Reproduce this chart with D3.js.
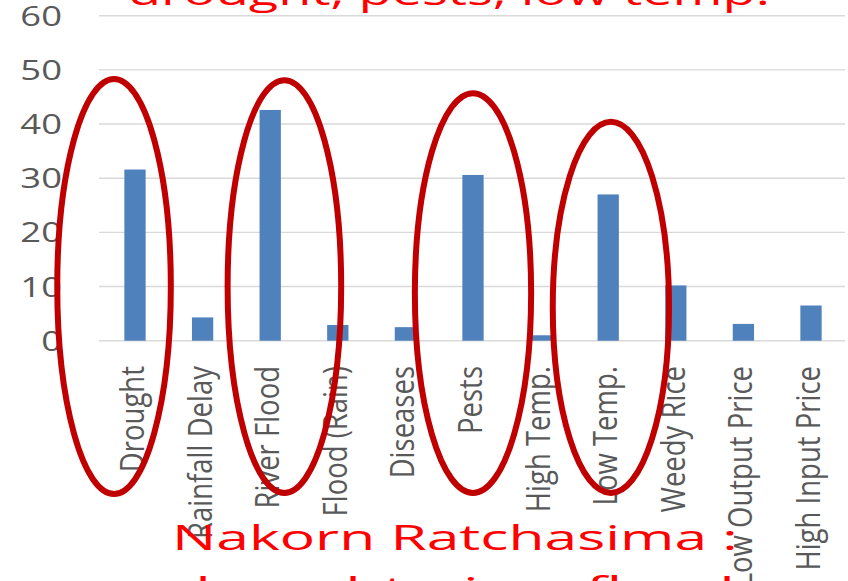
<!DOCTYPE html>
<html>
<head>
<meta charset="utf-8">
<script src="https://cdn.jsdelivr.net/npm/d3@7"></script>
<style>
  html, body { margin: 0; padding: 0; background: #fff; overflow: hidden; }
  svg { display: block; }
  text { font-family: "Open Sans", "DejaVu Sans", sans-serif; }
</style>
</head>
<body>
<script>
// Reported problems, share of farmers (%)
const categories = ["Drought", "Rainfall Delay", "River Flood", "Flood (Rain)", "Diseases",
  "Pests", "High Temp.", "Low Temp.", "Weedy Rice", "Low Output Price", "High Input Price"];
const values = [31.6, 4.3, 42.6, 2.9, 2.5, 30.6, 1.0, 27.0, 10.2, 3.1, 6.5];
const yTicks = [0, 10, 20, 30, 40, 50, 60];

// Hand-drawn rings around the main problems (offset/width in bands, top/bottom in %)
const ringCats = ["Drought", "River Flood", "Pests", "Low Temp."];
const ringShift = [-0.31, 0.21, 0.0, 0.04];
const ringHalfWidth = [0.84, 0.84, 0.86, 0.86];
const ringTop = [48.3, 48.1, 45.7, 40.4];
const ringBottom = [-28.3, -28.1, -28.1, -28.1];

const headline = "drought, pests, low temp.";
const captionLines = ["Nakorn Ratchasima :", "drought, river flood"];

const W = 848, H = 581;
const svg = d3.select("body").append("svg").attr("width", W).attr("height", H);

const x = d3.scaleBand().domain(categories).range([101.2, 844.8])
  .paddingInner(0.685).paddingOuter(0.3425);
const y = d3.scaleLinear().domain([0, 60]).range([340.7, 15.7]);
const gridLeft = 99, gridRight = 845;

// gridlines
svg.append("g").selectAll("line").data(yTicks).join("line")
  .attr("x1", gridLeft).attr("x2", gridRight)
  .attr("y1", d => y(d)).attr("y2", d => y(d))
  .attr("stroke", "#d9d9d9").attr("stroke-width", 1.4);

// y tick labels (wide digits)
svg.append("g").selectAll("text").data(yTicks).join("text")
  .attr("transform", d => `translate(62,${y(d) + 10}) scale(1.3,1)`)
  .attr("text-anchor", "end")
  .attr("font-size", 28)
  .attr("fill", "#595959")
  .text(d => d);

// bars
svg.append("g").selectAll("rect").data(categories).join("rect")
  .attr("x", d => x(d))
  .attr("width", x.bandwidth())
  .attr("y", (d, i) => y(values[i]))
  .attr("height", (d, i) => y(0) - y(values[i]))
  .attr("fill", "#4f81bd");

// rotated category labels
svg.append("g").selectAll("text").data(categories).join("text")
  .attr("transform", d => `translate(${x(d) + x.bandwidth() / 2 + 9},366) rotate(-90) scale(1,1.2)`)
  .attr("text-anchor", "end")
  .attr("font-size", 27.5)
  .attr("fill", "#595959")
  .text(d => d);

// rings
const step = x.step();
svg.append("g").selectAll("ellipse").data(ringCats).join("ellipse")
  .attr("cx", (d, i) => x(d) + x.bandwidth() / 2 + ringShift[i] * step)
  .attr("cy", (d, i) => (y(ringTop[i]) + y(ringBottom[i])) / 2)
  .attr("rx", (d, i) => ringHalfWidth[i] * step)
  .attr("ry", (d, i) => (y(ringBottom[i]) - y(ringTop[i])) / 2)
  .attr("fill", "none")
  .attr("stroke", "#c00000")
  .attr("stroke-width", 6);

// red headline and caption, stretched to their spans
function fitText(str, left, right, baseline, size) {
  const t = svg.append("text")
    .attr("font-size", size)
    .attr("fill", "#ff0000")
    .text(str);
  const len = t.node().getComputedTextLength();
  const k = (right - left) / len;
  t.attr("transform", `translate(${left},${baseline}) scale(${k},1)`);
  return t;
}
fitText(headline, 128, 770, 5, 35);
fitText(captionLines[0], 172, 738, 550, 35);
fitText(captionLines[1], 173, 735, 602, 35);
</script>
</body>
</html>
